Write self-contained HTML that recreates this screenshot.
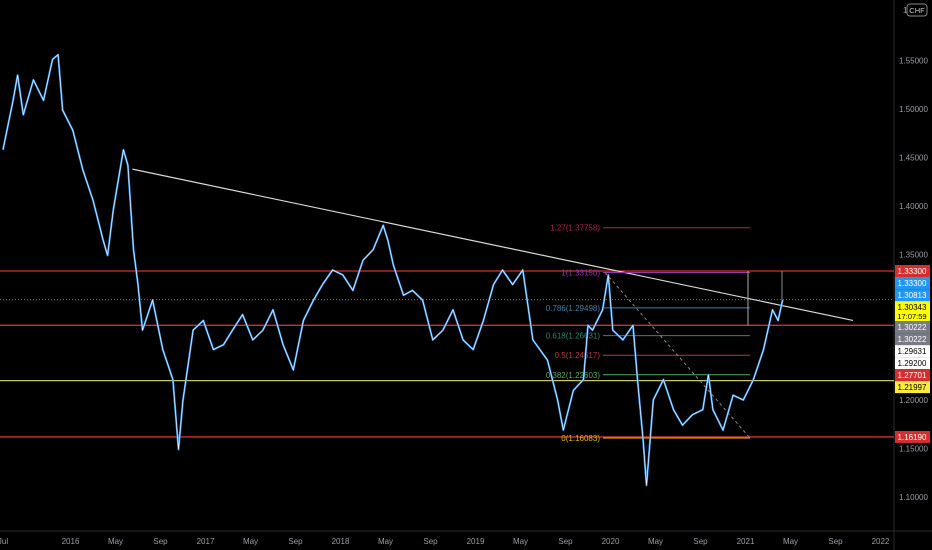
<!DOCTYPE html>
<html><head><meta charset="utf-8"><style>
html,body{margin:0;padding:0;background:#000;}
svg{display:block;font-family:"Liberation Sans",sans-serif;}
</style></head><body>
<svg id="chart" width="932" height="550" viewBox="0 0 932 550">
<rect x="0" y="0" width="932" height="550" fill="#000"/>
<line x1="894" y1="0" x2="894" y2="550" stroke="#2a2a2a"/>
<line x1="0" y1="531" x2="932" y2="531" stroke="#2a2a2a"/>
<g id="xticks"></g>
<g id="yticks"></g>
<g id="levels"></g>
<g id="fib"></g>
<g id="series"></g>
<g id="tags"></g>
<g>
<text x="903" y="13" fill="#aaa" font-size="8">1</text>
<rect x="907" y="4" width="20" height="12" rx="3" fill="none" stroke="#888"/>
<text x="917" y="13" fill="#ccc" font-size="7.5" text-anchor="middle">CHF</text>
</g>
</svg>
<script>
const months = [0,0.9,1.3,1.8,2.7,3.6,4.4,4.9,5.3,6.2,7.1,8,8.9,9.3,9.8,10.7,11.1,11.6,12,12.4,13.3,14.2,15.1,15.6,16,16.9,17.8,18.7,19.6,20.4,21.3,22.2,23.1,24,24.9,25.8,26.7,27.6,28.4,29.3,30.2,31.1,32,32.9,33.8,34.2,34.7,35.6,36.4,37.3,38.2,39.1,40,40.9,41.8,42.7,43.6,44.4,45.3,46.2,47.1,48.4,49.3,49.8,50.7,51.6,52,52.4,53.3,53.8,54.2,55.1,56,56.4,56.9,57.2,57.8,58.7,59.6,60.4,61.3,62.2,62.7,63.1,64,64.9,65.8,66.7,67.6,68.4,68.9,69.3];
const prices = [1.458,1.509,1.535,1.494,1.530,1.509,1.551,1.556,1.499,1.478,1.437,1.406,1.365,1.349,1.396,1.458,1.442,1.355,1.319,1.272,1.303,1.252,1.221,1.149,1.200,1.272,1.282,1.252,1.257,1.272,1.288,1.262,1.272,1.293,1.257,1.231,1.282,1.303,1.319,1.334,1.329,1.313,1.344,1.355,1.380,1.365,1.339,1.308,1.313,1.303,1.262,1.272,1.293,1.262,1.252,1.282,1.319,1.334,1.319,1.334,1.262,1.241,1.200,1.169,1.210,1.221,1.277,1.272,1.293,1.329,1.272,1.262,1.277,1.221,1.159,1.112,1.200,1.221,1.190,1.174,1.185,1.190,1.226,1.190,1.169,1.205,1.200,1.221,1.252,1.293,1.282,1.303];
const xTickLabels = ["Jul","2016","May","Sep","2017","May","Sep","2018","May","Sep","2019","May","Sep","2020","May","Sep","2021","May","Sep","2022"];
const xTickMonths = [0,6,10,14,18,22,26,30,34,38,42,46,50,54,58,62,66,70,74,78];
const yTickValues = [1.10,1.15,1.20,1.35,1.40,1.45,1.50,1.55];
const levelPrices = [1.3330,1.27701,1.16190,1.21997];
const levelColors = ["#d32f2f","#d32f2f","#d32f2f","#c8c86a"];
const fibRatios = ["1.27","1","0.786","0.618","0.5","0.382","0"];
const fibPrices = [1.37758,1.33150,1.29498,1.26631,1.24617,1.22603,1.16083];
const fibColors = ["#b0245a","#8e3aa8","#4a7ea8","#2a8a6a","#b83a3a","#5aaa5a","#e6b800"];
const tagPrices = [1.3330,1.3330,1.30813,1.30343,1.30222,1.30222,1.29631,1.29200,1.27701,1.21997,1.16190];
const tagTexts = ["1.33300","1.33300","1.30813","1.30343","1.30222","1.30222","1.29631","1.29200","1.27701","1.21997","1.16190"];
const tagColors = ["#d32f2f","#2196f3","#2196f3","#ffff00","#787b86","#787b86","#ffffff","#ffffff","#d32f2f","#ffeb3b","#d32f2f"];
const tagTextColors = ["#fff","#fff","#fff","#000","#fff","#fff","#000","#000","#fff","#000","#fff"];

const NS="http://www.w3.org/2000/svg";
function X(m){return 3+m*11.25;}
function Y(p){return 497-(p-1.10)*970;}
function mk(tag,attrs,parent){const e=document.createElementNS(NS,tag);for(const k in attrs)e.setAttribute(k,attrs[k]);parent.appendChild(e);return e;}

const xt=document.getElementById('xticks');
xTickLabels.forEach((l,i)=>{const t=mk('text',{x:X(xTickMonths[i]),y:544,fill:'#9a9da6','font-size':8,'text-anchor':'middle'},xt);


t.textContent=l;});
const yt=document.getElementById('yticks');
yTickValues.forEach(v=>{const t=mk('text',{x:899,y:Y(v)+3,fill:'#9a9da6','font-size':8},yt);


t.textContent=v.toFixed(5);});

const lv=document.getElementById('levels');
levelPrices.forEach((p,i)=>{const l=mk('line',{x1:0,x2:894,y1:Y(p),y2:Y(p),stroke:levelColors[i],'stroke-width':1.3},lv);

});
const cur=mk('line',{x1:0,x2:894,y1:Y(1.30343),y2:Y(1.30343),stroke:'#8a8030','stroke-dasharray':'1,2'},lv);


const tl=mk('line',{x1:X(11.5),y1:Y(1.438),x2:853,y2:Y(1.282),stroke:'#d8d8d8','stroke-width':1.2},lv);



const fb=document.getElementById('fib');
fibPrices.forEach((p,i)=>{const l=mk('line',{x1:603,x2:750,y1:Y(p),y2:Y(p),stroke:fibColors[i],'stroke-width':1},fb);


const t=mk('text',{x:600,y:Y(p)+3,fill:fibColors[i],'font-size':8,'text-anchor':'end'},fb);


t.textContent=fibRatios[i]+'('+p.toFixed(5)+')';});
const dg=mk('line',{x1:605,y1:Y(1.3315),x2:750,y2:Y(1.16083),stroke:'#888','stroke-dasharray':'3,3'},fb);


const v1=mk('line',{x1:748,y1:Y(1.333),x2:748,y2:Y(1.27701),stroke:'#aaa'},fb);


const v2=mk('line',{x1:782,y1:Y(1.333),x2:782,y2:Y(1.303),stroke:'#888'},fb);



const sr=document.getElementById('series');
const pts=months.map((m,i)=>X(m).toFixed(1)+','+Y(prices[i]).toFixed(1)).join(' ');
const pl=mk('polyline',{points:pts,fill:'none',stroke:'#2f8ee0','stroke-width':2,'stroke-linejoin':'round'},sr);


const pl2=mk('polyline',{points:pts,fill:'none',stroke:'#e8f2ff','stroke-width':0.7},sr);



const tg=document.getElementById('tags');
let lastY=-100;
tagPrices.forEach((p,i)=>{let y=Y(p)-6; if(y<lastY+12)y=lastY+12; lastY=y;
const h=(i===3)?20:12;
const r=mk('rect',{x:895,y:y,width:35,height:h,fill:tagColors[i]},tg);


const t=mk('text',{x:912,y:y+9,fill:tagTextColors[i],'font-size':8,'text-anchor':'middle'},tg);


t.textContent=tagTexts[i];
if(i===3){const t2=mk('text',{x:912,y:y+18,fill:'#000','font-size':7.5,'text-anchor':'middle'},tg);


t2.textContent='17:07:59'; lastY=y+8;}
});
</script>
</body></html>
